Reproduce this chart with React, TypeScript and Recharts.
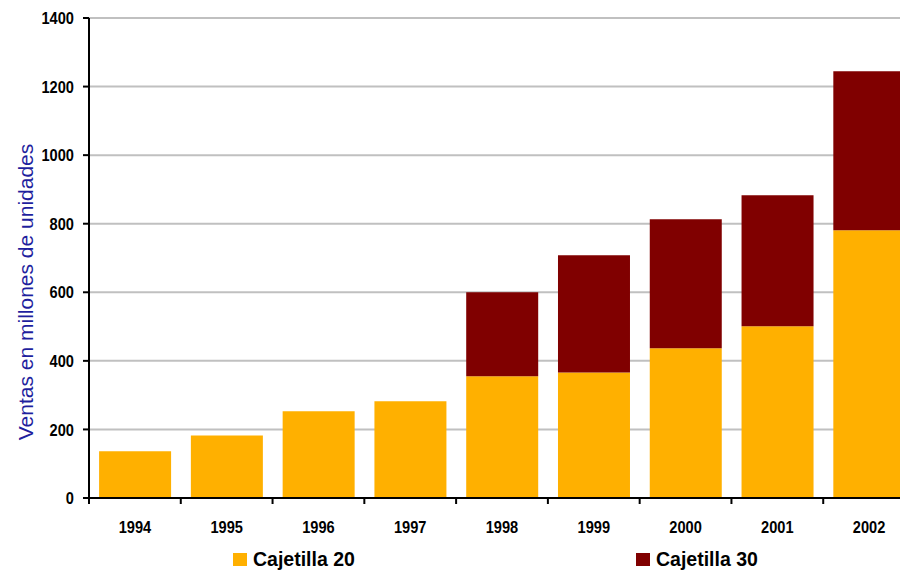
import React from "react";
import { BarChart, Bar, XAxis, YAxis, CartesianGrid, Legend } from "recharts";

// Annual sales, millions of units
const years = ["1994", "1995", "1996", "1997", "1998", "1999", "2000", "2001", "2002"];
const cajetilla20 = [136, 182, 253, 282, 355, 366, 437, 501, 781];
const cajetilla30 = [0, 0, 0, 0, 245, 342, 376, 382, 464];
const yTicks = [0, 200, 400, 600, 800, 1000, 1200, 1400];

const YELLOW = "#FFB000";
const MAROON = "#800000";
const FONT = "'Liberation Sans', Arial, sans-serif";
const X_TICK_SIZE = 6;
const X_TICK_MARGIN = 17;

const data = years.map((y, i) => ({
  year: y,
  c20: cajetilla20[i],
  c30: cajetilla30[i] || null,
}));

const tickText = (x: number, y: number, anchor: string, dy: string, value: any) => (
  <text
    transform={`translate(${x},${y}) scale(0.86,1)`}
    textAnchor={anchor}
    dy={dy}
    fill="#000"
    fontFamily={FONT}
    fontWeight="bold"
    fontSize={17}
  >
    {value}
  </text>
);

// Category tick: condensed bold year label, with tick marks on the band edges
const XTick = (props: any) => {
  const { x, y, payload, index, visibleTicksCount } = props;
  const half = payload && typeof payload.offset === "number" ? payload.offset : 0;
  const axisY = y - X_TICK_SIZE - X_TICK_MARGIN;
  const isLast = index === visibleTicksCount - 1;
  return (
    <g>
      <line x1={x - half} x2={x - half} y1={axisY} y2={axisY + X_TICK_SIZE} stroke="#000" strokeWidth={2} />
      {isLast && (
        <line x1={x + half} x2={x + half} y1={axisY} y2={axisY + X_TICK_SIZE} stroke="#000" strokeWidth={2} />
      )}
      {tickText(x, y, "middle", "0.71em", payload.value)}
    </g>
  );
};

const YTick = (props: any) => {
  const { x, y, payload } = props;
  return tickText(x, y, "end", "0.36em", payload.value);
};

const YLabel = () => (
  <text
    x={25}
    y={292}
    transform="rotate(-90 25 292)"
    textAnchor="middle"
    dominantBaseline="central"
    fill="#1f1f9e"
    fontFamily={FONT}
    fontSize={21}
  >
    Ventas en millones de unidades
  </text>
);

const legendItems = [
  { label: "Cajetilla 20", color: YELLOW, left: 233 },
  { label: "Cajetilla 30", color: MAROON, left: 636 },
];

const LegendContent = () => (
  <div style={{ position: "relative", width: 916, height: 32 }}>
    {legendItems.map((it) => (
      <div key={it.label} style={{ position: "absolute", left: it.left, top: 13, display: "flex", alignItems: "center" }}>
        <div style={{ width: 14, height: 13, background: it.color }} />
        <span
          style={{
            marginLeft: 6,
            fontFamily: FONT,
            fontWeight: "bold",
            fontSize: 19.5,
            color: "#000",
            lineHeight: "16px",
          }}
        >
          {it.label}
        </span>
      </div>
    ))}
  </div>
);

export default function App() {
  return (
    <div style={{ marginLeft: -8, marginTop: -8, width: 908, height: 570, overflow: "hidden" }}>
      <BarChart
        width={916}
        height={570}
        data={data}
        margin={{ top: 18, right: 1, left: 0, bottom: 0 }}
        barCategoryGap="11%"
      >
        <CartesianGrid horizontal vertical={false} stroke="#c0c0c0" strokeWidth={2} />
        <XAxis
          dataKey="year"
          tickLine={false}
          tickSize={X_TICK_SIZE}
          tickMargin={X_TICK_MARGIN}
          axisLine={{ stroke: "#000", strokeWidth: 2 }}
          tick={<XTick />}
          height={40}
          interval={0}
        />
        <YAxis
          domain={[0, 1400]}
          ticks={yTicks}
          width={89}
          tickSize={6}
          tickMargin={9}
          axisLine={{ stroke: "#000", strokeWidth: 2 }}
          tickLine={{ stroke: "#000", strokeWidth: 2 }}
          tick={<YTick />}
          label={<YLabel />}
        />
        <Legend verticalAlign="bottom" height={32} content={<LegendContent />} wrapperStyle={{ left: 0, bottom: 0 }} />
        <Bar dataKey="c20" name="Cajetilla 20" stackId="a" fill={YELLOW} isAnimationActive={false} />
        <Bar dataKey="c30" name="Cajetilla 30" stackId="a" fill={MAROON} isAnimationActive={false} />
      </BarChart>
    </div>
  );
}
